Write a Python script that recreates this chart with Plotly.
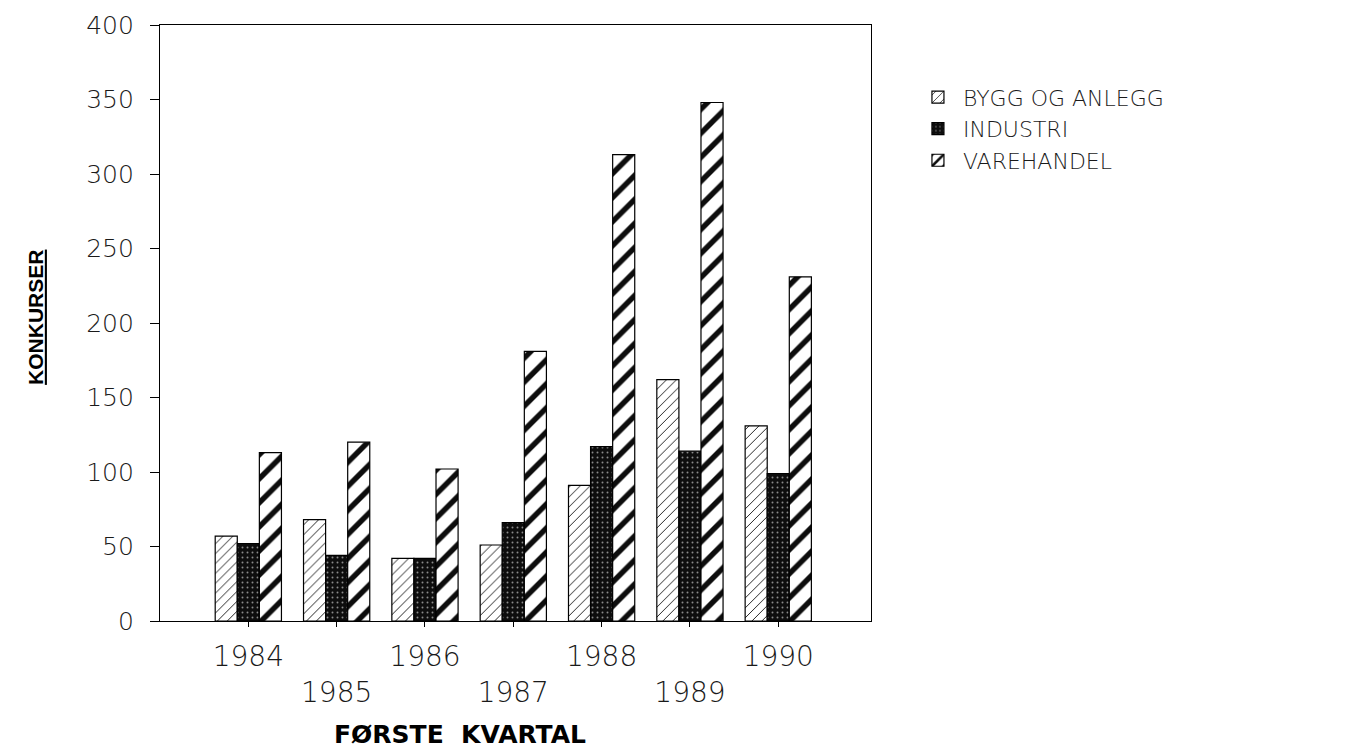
import plotly.graph_objects as go

years = [1984, 1985, 1986, 1987, 1988, 1989, 1990]
bygg = [57, 68, 42, 51, 91, 162, 131]
industri = [52, 44, 42, 66, 117, 114, 99]
varehandel = [113, 120, 102, 181, 313, 348, 231]

series_names = ["BYGG OG ANLEGG", "INDUSTRI", "VAREHANDEL"]
tick_vals = years
tick_text = ["1984", "&nbsp;<br>1985", "1986", "&nbsp;<br>1987", "1988", "&nbsp;<br>1989", "1990"]
y_ticks = [0, 50, 100, 150, 200, 250, 300, 350, 400]

x_font = dict(family="DejaVu Sans", size=28, color="#1a1a1a", weight=200)
y_font = dict(family="DejaVu Sans", size=25, color="#1a1a1a", weight=200)

fig = go.Figure()
fig.add_trace(go.Bar(
    x=years, y=bygg, name=series_names[0],
    marker=dict(color="white", line=dict(color="black", width=1.2),
                pattern=dict(shape="/", fgcolor="#222222", bgcolor="white", fgopacity=1,
                             size=7, solidity=0.14)),
))
fig.add_trace(go.Bar(
    x=years, y=industri, name=series_names[1],
    marker=dict(color="#111111", line=dict(color="black", width=1.2),
                pattern=dict(shape=".", fgcolor="#8a8a8a", bgcolor="#0d0d0d", fgopacity=1,
                             size=5, solidity=0.12)),
))
fig.add_trace(go.Bar(
    x=years, y=varehandel, name=series_names[2],
    marker=dict(color="white", line=dict(color="black", width=1.2),
                pattern=dict(shape="/", fgcolor="#0d0d0d", bgcolor="white", fgopacity=1,
                             size=17, solidity=0.32)),
))

fig.update_layout(
    width=1352, height=753,
    paper_bgcolor="white", plot_bgcolor="white",
    barmode="group", bargap=0.25, bargroupgap=0,
    margin=dict(l=152, r=489, t=17, b=140, autoexpand=False),
    showlegend=True,
    legend=dict(x=1.059, y=0.914, xanchor="left", yanchor="top",
                font=dict(family="DejaVu Sans", size=22, color="#1a1a1a", weight=200),
                itemwidth=40, tracegroupgap=0, bgcolor="rgba(0,0,0,0)"),
    xaxis=dict(
        range=[1983.0, 1991.05], tickmode="array", tickvals=tick_vals, ticktext=tick_text,
        showgrid=False, zeroline=False, showline=True, linecolor="black", linewidth=1.2,
        mirror=True, ticks="outside", ticklen=5, tickcolor="black", automargin=False,
        ticklabelstandoff=5,
        tickfont=x_font,
    ),
    yaxis=dict(
        range=[0, 400], tickmode="array", tickvals=y_ticks,
        showgrid=False, zeroline=False, showline=True, linecolor="black", linewidth=1.2,
        mirror=True, ticks="outside", ticklen=9, tickcolor="black", automargin=False,
        ticklabelstandoff=11,
        tickfont=y_font,
    ),
    annotations=[
        dict(text="FØRSTE  KVARTAL", xref="paper", yref="paper", x=0.422, y=-0.191,
             xanchor="center", yanchor="middle", showarrow=False,
             font=dict(family="DejaVu Sans", size=25, color="black", weight="bold")),
        dict(text="<u>KONKURSER</u>", xref="paper", yref="paper", x=-0.176, y=0.51,
             xanchor="center", yanchor="middle", showarrow=False, textangle=-90,
             font=dict(family="Liberation Sans", size=21, color="black", weight="bold")),
    ],
)

fig.write_html("out.html")
